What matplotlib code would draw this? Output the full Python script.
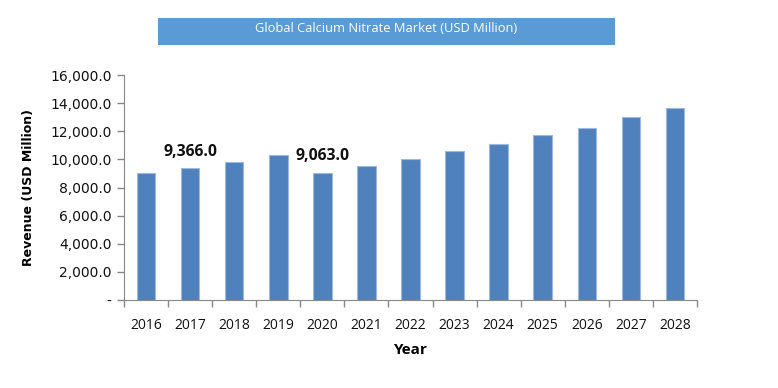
import matplotlib
matplotlib.use("Agg")
import matplotlib.pyplot as plt
from matplotlib.patches import Rectangle
from matplotlib.ticker import FuncFormatter, FixedLocator

years = ['2016', '2017', '2018', '2019', '2020', '2021', '2022',
         '2023', '2024', '2025', '2026', '2027', '2028']
revenue = [9010, 9366, 9835, 10312, 9063, 9551, 10006,
           10575, 11073, 11713, 12253, 13014, 13676]
labeled = {'2017': 9366, '2020': 9063}
yticks = [0, 2000, 4000, 6000, 8000, 10000, 12000, 14000, 16000]

fig = plt.figure(figsize=(7.78, 3.88), dpi=100)
ax = fig.add_axes([0.1594, 0.2268, 0.7365, 0.5799])

x = list(range(len(years)))
ax.bar(x, revenue, width=0.42, color='#4F81BD', edgecolor='#9DB9E0', linewidth=0.8, zorder=2)

for i, yr in enumerate(years):
    if yr in labeled:
        ax.text(i, labeled[yr] + 600, f"{labeled[yr]:,.1f}", ha='center', va='bottom',
                fontsize=11.3, fontweight='bold', family='Open Sans', color='#111111')

ax.set_xlim(-0.5, len(years) - 0.5)
ax.set_ylim(0, 16000)

ax.set_yticks(yticks)
ax.yaxis.set_major_formatter(FuncFormatter(lambda v, p: '-' if v == 0 else f"{v:,.1f}"))
ax.tick_params(axis='y', direction='out', length=5, width=1, color='#888888',
               labelsize=10, pad=4, labelcolor='#111111')

ax.set_xticks(x)
ax.set_xticklabels(years, family='Open Sans', fontsize=10, fontweight='medium')
ax.tick_params(axis='x', which='major', length=0, pad=13, labelcolor='#111111')
ax.xaxis.set_minor_locator(FixedLocator([i - 0.5 for i in range(len(years) + 1)]))
ax.tick_params(axis='x', which='minor', direction='out', length=5, width=1, color='#888888')

for side in ['top', 'right']:
    ax.spines[side].set_visible(False)
for side in ['left', 'bottom']:
    ax.spines[side].set_color('#888888')

ax.set_xlabel('Year', family='Open Sans', fontweight='bold', fontsize=11, labelpad=7)
ax.set_ylabel('Revenue (USD Million)', fontweight='bold', fontsize=9, labelpad=11)

# title banner
fig.patches.append(Rectangle((158 / 778, 1 - 45 / 388), (615 - 158) / 778, 27 / 388,
                             transform=fig.transFigure, facecolor='#5B9BD5', edgecolor='none'))
fig.text(386.5 / 778, 1 - 29 / 388, 'Global Calcium Nitrate Market (USD Million)',
         ha='center', va='center', color='white', fontsize=9.3, family='Open Sans',
         fontweight='medium')

fig.savefig('out.png', dpi=100)
